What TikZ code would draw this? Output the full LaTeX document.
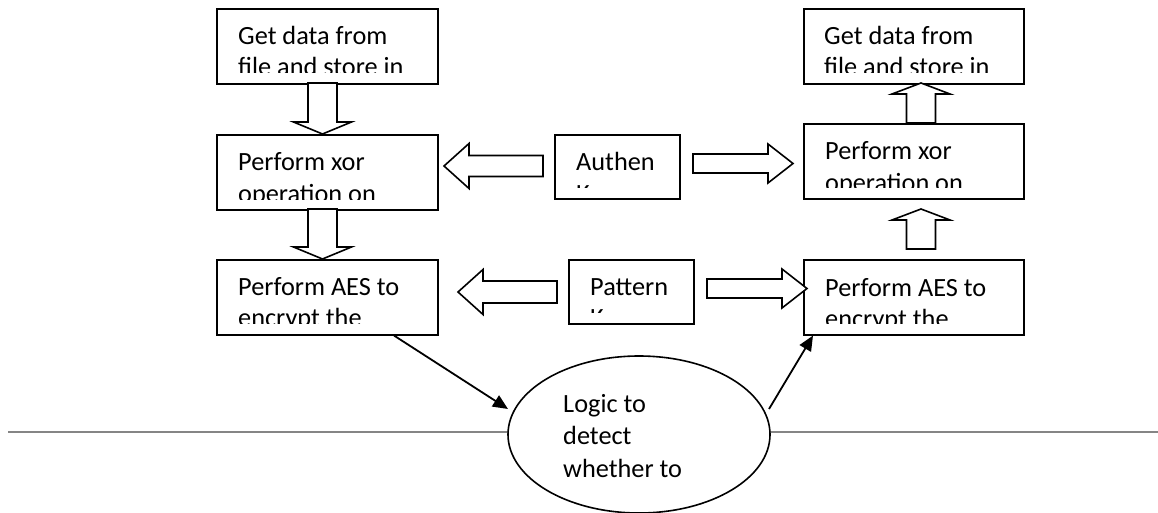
\documentclass[tikz,border=0pt]{standalone}
\usepackage{fontspec}
\setmainfont{Carlito}
\usetikzlibrary{shapes.geometric,arrows.meta,calc}
\tikzset{
  boxshape/.style={draw=black, line width=1.6pt, fill=white, rectangle, inner sep=0pt},
  txt/.style={anchor=base west, inner sep=0pt, font=\fontsize{26.3}{31}\selectfont},
  blockarr/.style={draw=black, line width=1.6pt, fill=white, line join=miter},
  thinarr/.style={draw=black, line width=1.8pt, -{Triangle[length=15pt,width=13pt]}},
}
% down/up block arrow: #1 = center x, #2 = tail y, #3 = head base y, #4 = tip y
\newcommand\varrow[4]{%
  \draw[blockarr] (#1-14.5,#2) -- (#1-14.5,#3) -- (#1-29,#3) -- (#1,#4) -- (#1+29,#3)
     -- (#1+14.5,#3) -- (#1+14.5,#2) -- cycle;}
% horizontal block arrow: #1 = center y, #2 = tail x, #3 = head base x, #4 = tip x, #5 half shaft, #6 half head
\newcommand\harrow[6]{%
  \draw[blockarr] (#2,#1-#5) -- (#3,#1-#5) -- (#3,#1-#6) -- (#4,#1) -- (#3,#1+#6)
     -- (#3,#1+#5) -- (#2,#1+#5) -- cycle;}
\begin{document}
\begin{tikzpicture}[x=1pt,y=-1pt]
\useasboundingbox (0,0) rectangle (1158,513);
\fill[white] (0,0) rectangle (1158,513);

% grey rule
\draw[line width=2.8pt, color=black!48] (8,432) -- (1158,432);

% boxes
\node[boxshape, minimum width=221pt, minimum height=75pt, anchor=north west] (b1) at (216,8) {};
\node[boxshape, minimum width=221pt, minimum height=75pt, anchor=north west] (b2) at (216,134) {};
\node[boxshape, minimum width=221pt, minimum height=75pt, anchor=north west] (b3) at (216,259) {};
\node[boxshape, minimum width=220pt, minimum height=75pt, anchor=north west] (r1) at (803,8) {};
\node[boxshape, minimum width=220pt, minimum height=75pt, anchor=north west] (r2) at (803,123) {};
\node[boxshape, minimum width=220pt, minimum height=75pt, anchor=north west] (r3) at (803,259) {};
\node[boxshape, minimum width=125pt, minimum height=64pt, anchor=north west] (au) at (554,134) {};
\node[boxshape, minimum width=125pt, minimum height=64pt, anchor=north west] (pa) at (568,259) {};

% clipped texts
\begin{scope}
  \clip (b1.north west) rectangle (437,73);
  \node[txt] (t1a) at (238,45) {Get data from};
  \node[txt] (t1b) at (238,76) {file and store in};
\end{scope}
\begin{scope}
  \clip (b2.north west) rectangle (437,199);
  \node[txt] (t2a) at (238,171) {Perform xor};
  \node[txt] (t2b) at (238,202) {operation on};
\end{scope}
\begin{scope}
  \clip (b3.north west) rectangle (437,323);
  \node[txt] (t3a) at (238,295) {Perform AES to};
  \node[txt] (t3b) at (238,326) {encrypt the};
\end{scope}
\begin{scope}
  \clip (r1.north west) rectangle (1023,73);
  \node[txt] (u1a) at (824,45) {Get data from};
  \node[txt] (u1b) at (824,76) {file and store in};
\end{scope}
\begin{scope}
  \clip (r2.north west) rectangle (1023,187);
  \node[txt] (u2a) at (825,160) {Perform xor};
  \node[txt] (u2b) at (825,191) {operation on};
\end{scope}
\begin{scope}
  \clip (r3.north west) rectangle (1023,323);
  \node[txt] (u3a) at (825,296) {Perform AES to};
  \node[txt] (u3b) at (825,327) {encrypt the};
\end{scope}
\begin{scope}
  \clip (au.north west) rectangle (679,187);
  \node[txt] (aua) at (576,171) {Authen};
  \node[txt] (aub) at (576,202) {Key};
\end{scope}
\begin{scope}
  \clip (pa.north west) rectangle (693,312.5);
  \node[txt] (paa) at (590,295) {Pattern};
  \node[txt] (pab) at (590,326) {Key};
\end{scope}

% block arrows
\varrow{322.5}{83}{122}{134}
\varrow{322.5}{209}{247}{259}
\varrow{921}{123}{94}{83}
\varrow{921}{249}{220}{209}
\harrow{166}{543}{469}{444}{10.5}{22.5}
\harrow{163.5}{693}{768}{793}{9.5}{19.5}
\harrow{292}{557}{483}{458}{11}{22.5}
\harrow{288.5}{707}{782}{807}{9.5}{19.5}

% ellipse
\node[draw=black, line width=1.6pt, fill=white, ellipse, minimum width=262pt, minimum height=157pt, inner sep=0pt] (el) at (639,434.5) {};
\node[txt] (e1) at (563,412) {Logic to};
\node[txt] (e2) at (563,444) {detect};
\node[txt] (e3) at (563,477) {whether to};

% thin arrows
\coordinate (s1) at ($(b3.south west)!0.8!(b3.south east)$);
\coordinate (e1t) at (508,409);
\draw[thinarr] (s1) -- (e1t);
\coordinate (s2) at (769,409);
\coordinate (e2t) at ($(r3.south west)!0.045!(r3.south east)$);
\draw[thinarr] (s2) -- (e2t);
\end{tikzpicture}
\end{document}
